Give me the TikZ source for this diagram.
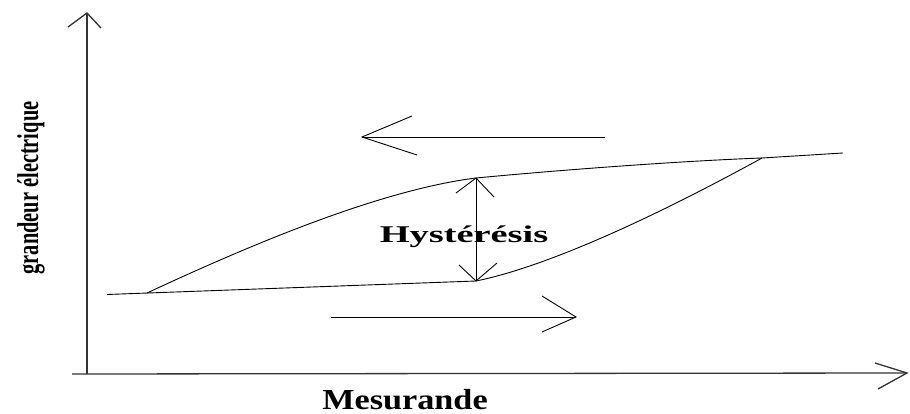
\documentclass[tikz,border=0pt]{standalone}
\usepackage{fontspec}
\setmainfont{Liberation Serif}
\begin{document}
\begin{tikzpicture}[x=1pt,y=-1pt,
  axis/.style={line width=1.3pt,draw=black!80},
  curve/.style={line width=0.9pt,draw=black},
  lbl/.style={inner sep=0pt,font=\bfseries}]
\useasboundingbox (0,0) rectangle (910,414);
% coordinates
\coordinate (O) at (87,374);
\coordinate (Ox) at (72,374);
\coordinate (Ytip) at (87,13);
\coordinate (Yl) at (68,27);
\coordinate (Yr) at (101,28);
\coordinate (Xtip) at (907,373);
\coordinate (Xu) at (875,363);
\coordinate (Xd) at (878,389);
% axes
\draw[axis] (Ox) -- (Xtip);
\draw[axis] (O) -- (Ytip);
\draw[axis] (Yl) -- (Ytip) -- (Yr);
\draw[axis] (Xu) -- (Xtip) -- (Xd);
% hysteresis loop
\coordinate (L0) at (107,294.5);
\coordinate (A) at (147,293);
\coordinate (P) at (476,178);
\coordinate (Q) at (476,281);
\coordinate (B) at (762,158);
\coordinate (E) at (843,153);
\draw[curve] (L0) -- (Q) .. controls (540,268) and (640,225) .. (B);
\draw[curve] (A) .. controls (250,245) and (380,190) .. (P)
   .. controls (560,170) and (680,161) .. (B) -- (E);
% hysteresis double arrow
\coordinate (Pl) at (456,193);
\coordinate (Pr) at (494,197);
\coordinate (Ql) at (459,265);
\coordinate (Qr) at (497,263);
\draw[curve] (P) -- (Q);
\draw[curve] (Pl) -- (P) -- (Pr);
\draw[curve] (Ql) -- (Q) -- (Qr);
% direction arrows
\coordinate (T1) at (605,137);
\coordinate (T2) at (362,137);
\coordinate (T2u) at (412,116);
\coordinate (T2d) at (417,155);
\draw[curve] (T1) -- (T2);
\draw[curve] (T2u) -- (T2) -- (T2d);
\coordinate (B1) at (331,317);
\coordinate (B2) at (576,317);
\coordinate (B2u) at (542,296);
\coordinate (B2d) at (542,332);
\draw[curve] (B1) -- (B2);
\draw[curve] (B2u) -- (B2) -- (B2d);
% labels
\node[lbl,anchor=base] (hys) at (464,242) {\scalebox{1.6}[1]{\fontsize{24}{24}\selectfont\bfseries Hystérésis}};
\node[lbl,anchor=base] (mes) at (405,409) {\scalebox{1.18}[1]{\fontsize{29}{29}\selectfont\bfseries Mesurande}};
\node[lbl,rotate=90] (ge) at (31,188) {\scalebox{0.68}[1]{\fontsize{30}{30}\selectfont\bfseries grandeur électrique}};
\end{tikzpicture}
\end{document}
